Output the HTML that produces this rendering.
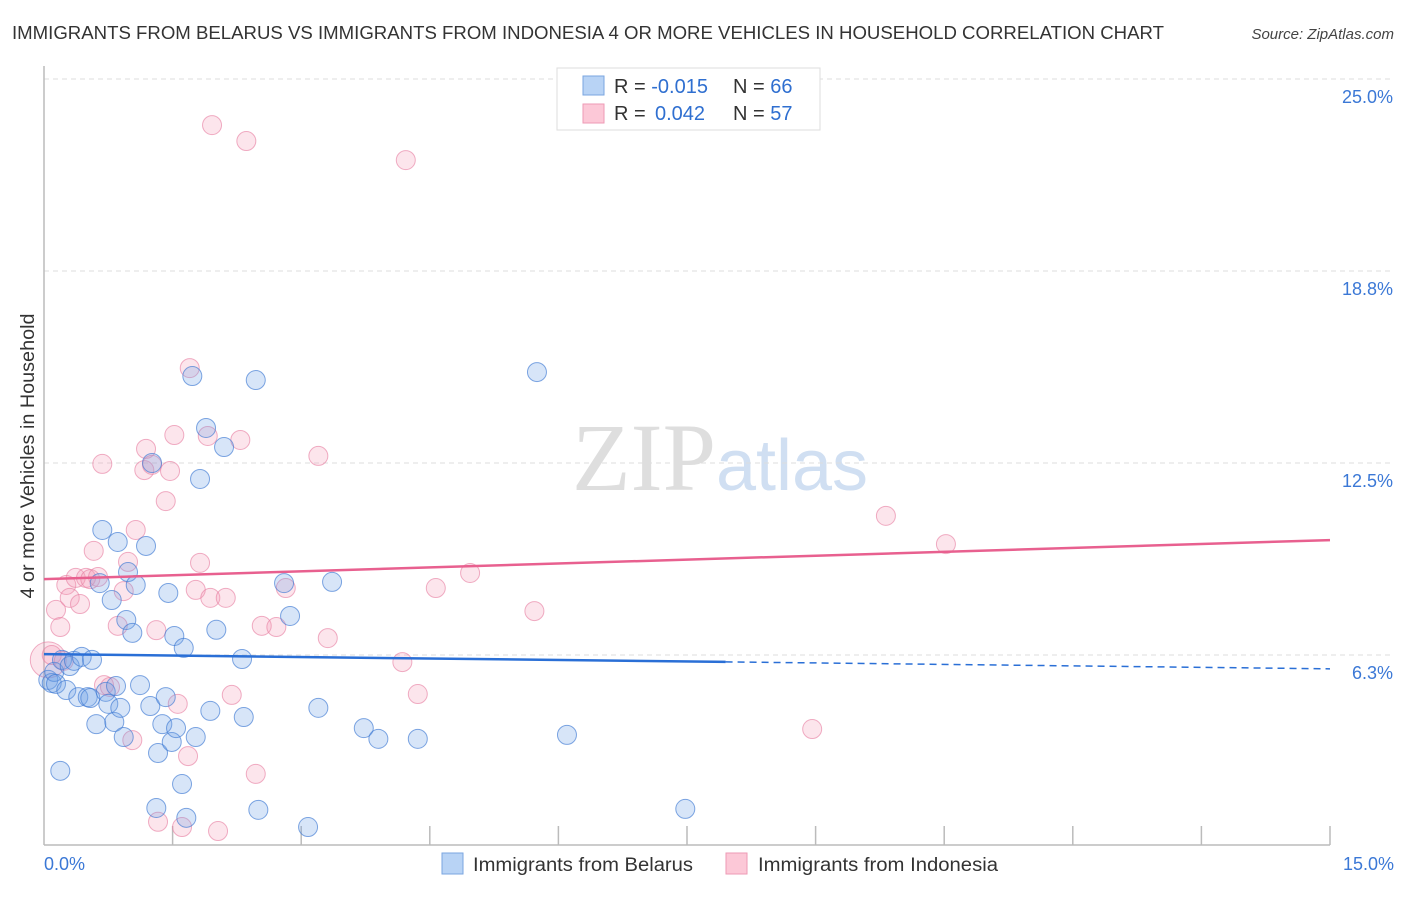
<!DOCTYPE html>
<html><head><meta charset="utf-8"><style>
body{margin:0;background:#fff;font-family:"Liberation Sans",sans-serif;}
svg text{font-family:"Liberation Sans",sans-serif;}
</style></head><body>
<svg id="chart" width="1406" height="892" xmlns="http://www.w3.org/2000/svg">
<text x="12" y="39" font-size="18" fill="#333" textLength="1152" lengthAdjust="spacingAndGlyphs">IMMIGRANTS FROM BELARUS VS IMMIGRANTS FROM INDONESIA 4 OR MORE VEHICLES IN HOUSEHOLD CORRELATION CHART</text>
<text x="1394" y="39" font-size="15" fill="#444" font-style="italic" text-anchor="end">Source: ZipAtlas.com</text>
<text x="720" y="490" font-size="96" text-anchor="middle" fill="#ddd"><tspan font-family="Liberation Serif" fill="#dedede">ZIP</tspan><tspan fill="#d0dff2" font-size="72">atlas</tspan></text>
<text transform="translate(34,456) rotate(-90)" font-size="19" fill="#333" text-anchor="middle" textLength="285" lengthAdjust="spacingAndGlyphs">4 or more Vehicles in Household</text>
<g id="grid"></g>
<g id="marks"></g>
<g id="legend-top">
<rect x="557" y="68" width="263" height="62" fill="#fff" stroke="#ddd"/>
<rect x="583" y="76" width="21" height="19" fill="#b8d3f5" stroke="#7aa6e0"/>
<rect x="583" y="104" width="21" height="19" fill="#fcc8d7" stroke="#ee9ab4"/>
<text x="614" y="93" font-size="20" fill="#333">R = <tspan fill="#2f6fd0">-0.015</tspan><tspan x="733">N = </tspan><tspan fill="#2f6fd0">66</tspan></text>
<text x="614" y="120" font-size="20" fill="#333">R = <tspan fill="#2f6fd0" x="655">0.042</tspan><tspan x="733">N = </tspan><tspan fill="#2f6fd0">57</tspan></text>
</g>
<g>
<rect x="442" y="853" width="21" height="21" fill="#b8d3f5" stroke="#7aa6e0"/>
<text x="473" y="871" font-size="19" fill="#333" textLength="220" lengthAdjust="spacingAndGlyphs">Immigrants from Belarus</text>
<rect x="726" y="853" width="21" height="21" fill="#fcc8d7" stroke="#ee9ab4"/>
<text x="758" y="871" font-size="19" fill="#333" textLength="240" lengthAdjust="spacingAndGlyphs">Immigrants from Indonesia</text>
</g>
</svg>
<script>
const xTickLabels=["0.0%","15.0%"];
const yTicks=[25.0,18.75,12.5,6.25];
const yTickLabels=["25.0%","18.8%","12.5%","6.3%"];
const belarusX=[.05,.09,.12,.14,.19,.21,.26,.30,.35,.40,.44,.51,.54,.56,.61,.65,.68,.72,.75,.79,.82,.84,.86,.89,.93,.96,.98,1.03,1.07,1.12,1.19,1.24,1.26,1.31,1.33,1.38,1.42,1.45,1.49,1.52,1.54,1.61,1.63,1.66,1.73,1.77,1.82,1.89,1.94,2.01,2.10,2.31,2.33,2.47,2.50,2.80,2.87,3.08,3.20,3.36,3.73,3.90,4.36,5.75,6.10,7.48];
const belarusY=[5.44,5.34,5.70,5.31,2.48,6.09,5.11,5.89,6.06,4.88,6.19,4.88,4.85,6.09,4.00,8.59,10.32,5.05,4.66,8.04,4.07,5.24,9.93,4.53,3.58,7.39,8.95,6.97,8.53,5.27,9.80,4.59,12.50,1.27,3.06,4.00,4.88,8.27,3.42,6.87,3.87,2.05,6.48,0.95,15.33,3.58,11.98,13.64,4.43,7.07,13.02,6.12,4.23,15.20,1.21,8.59,7.52,0.65,4.53,8.63,3.87,3.52,3.52,15.46,3.65,1.24];
const indonesiaX=[.05,.09,.14,.19,.23,.26,.30,.37,.42,.49,.54,.58,.63,.68,.70,.77,.86,.93,.98,1.03,1.07,1.17,1.19,1.26,1.31,1.33,1.42,1.47,1.52,1.56,1.61,1.68,1.70,1.77,1.82,1.91,1.94,1.96,2.03,2.12,2.19,2.29,2.36,2.47,2.54,2.71,2.82,3.20,3.31,4.18,4.22,4.36,4.57,4.97,5.72,8.96,9.82,10.52];
const indonesiaY=[6.09,6.25,7.72,7.16,6.06,8.53,8.11,8.76,7.91,8.76,8.72,9.64,8.79,12.47,5.27,5.21,7.20,8.33,9.28,3.48,10.32,12.27,12.96,12.44,7.06,0.82,11.26,12.24,13.41,4.66,0.65,2.96,15.59,8.37,9.25,13.38,8.11,23.50,0.52,8.11,4.95,13.25,22.98,2.38,7.20,7.16,8.43,12.73,6.80,6.02,22.36,4.98,8.43,8.92,7.68,3.84,10.78,9.86];
const belarusTrend=[6.28,5.80];
const indonesiaTrend=[8.72,9.99];
const NS="http://www.w3.org/2000/svg";
const X0=44,X1=1330,XMAX=15;
function sx(v){return X0+(X1-X0)*v/XMAX;}
function sy(v){return 79+(25-v)*192/6.25;}
function mk(t,a,p){const e=document.createElementNS(NS,t);for(const k in a)e.setAttribute(k,a[k]);p.appendChild(e);return e;}
const grid=document.getElementById('grid'),marks=document.getElementById('marks');
yTicks.forEach((v,i)=>{
 const l=mk('line',{x1:X0,x2:1394,y1:sy(v),y2:sy(v),stroke:'#ddd','stroke-dasharray':'5,4'},grid);
 
 
 const t=mk('text',{x:1393,y:sy(v)+24,'font-size':18,fill:'#3b78d6','text-anchor':'end'},grid);
 t.textContent=yTickLabels[i];
 
 
});
const ax=mk('line',{x1:X0,x2:X1,y1:845,y2:845,stroke:'#bbb','stroke-width':1.5},grid);


const ay=mk('line',{x1:X0,x2:X0,y1:66,y2:845,stroke:'#bbb','stroke-width':1.5},grid);


for(let i=1;i<=10;i++){
 const tk=mk('line',{x1:sx(i*1.5),x2:sx(i*1.5),y1:826,y2:845,stroke:'#bbb','stroke-width':1.5},grid);
 
 
}
[[0,'start',X0],[1,'end',1394]].forEach(([i,a,x])=>{
 const t=mk('text',{x:x,y:870,'font-size':18,fill:'#3b78d6','text-anchor':a},grid);
 t.textContent=xTickLabels[i];
 
 
});
function dots(xs,ys,fill,stroke,name){
 xs.forEach((x,i)=>{
  const r=(x<0.1&&name==='indonesia-point'&&i===0)?18:9.5;
  const c=mk('circle',{cx:sx(x),cy:sy(ys[i]),r:r,fill:fill,stroke:stroke,'stroke-width':1},marks);
  
  
 });
}
dots(indonesiaX,indonesiaY,'rgba(245,150,180,0.25)','rgba(232,130,165,0.65)','indonesia-point');
dots(belarusX,belarusY,'rgba(110,160,230,0.28)','rgba(60,120,210,0.65)','belarus-point');
const bMid=7.95;
const bmy=belarusTrend[0]+(belarusTrend[1]-belarusTrend[0])*bMid/XMAX;
const bl=mk('line',{x1:sx(0),y1:sy(belarusTrend[0]),x2:sx(bMid),y2:sy(bmy),stroke:'#2a6fd6','stroke-width':2.5},marks);


const bd=mk('line',{x1:sx(bMid),y1:sy(bmy),x2:sx(XMAX),y2:sy(belarusTrend[1]),stroke:'#2a6fd6','stroke-width':1.5,'stroke-dasharray':'7,5'},marks);


const pl=mk('line',{x1:sx(0),y1:sy(indonesiaTrend[0]),x2:sx(XMAX),y2:sy(indonesiaTrend[1]),stroke:'#e8608f','stroke-width':2.5},marks);


</script>
</body></html>
